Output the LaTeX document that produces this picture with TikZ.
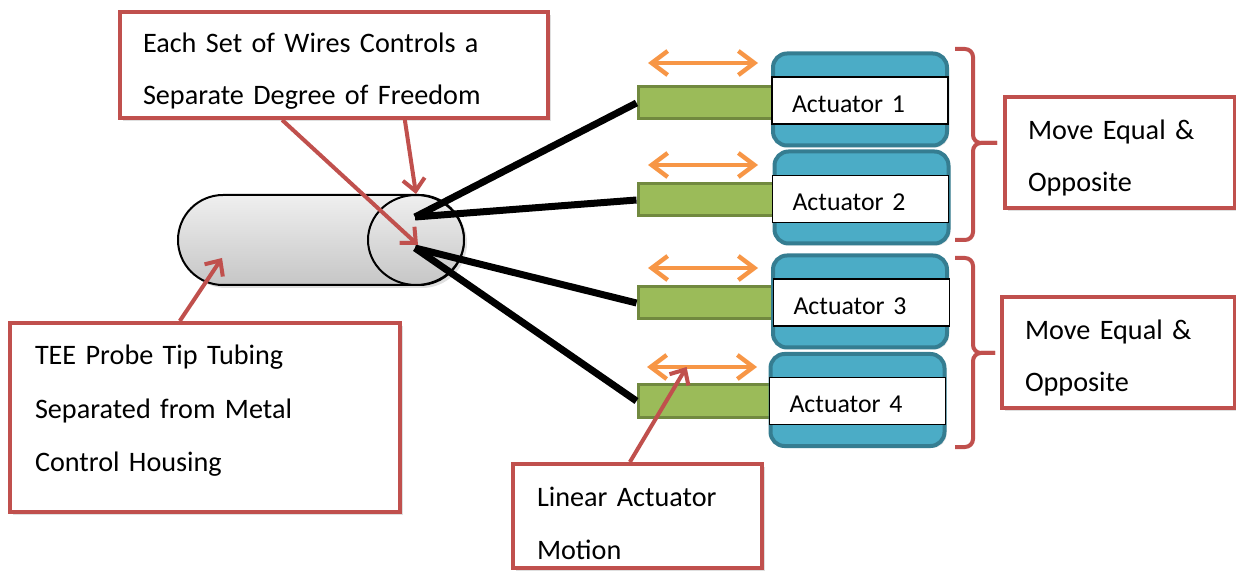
\documentclass[tikz,border=0pt]{standalone}
\usepackage{fontspec}
\setmainfont{Carlito}
\usetikzlibrary{arrows.meta,shapes.geometric,shapes.misc,shadows,calc}
\definecolor{calloutred}{HTML}{C0504D}
\definecolor{motionorange}{HTML}{F79646}
\definecolor{rodgreen}{HTML}{9BBB59}
\definecolor{roddark}{HTML}{71893F}
\definecolor{actblue}{HTML}{4BACC6}
\definecolor{actdark}{HTML}{357D91}
\definecolor{tubelight}{HTML}{EFEFEF}
\definecolor{tubedark}{HTML}{C6C6C6}
\begin{document}
\begin{tikzpicture}[x=0.5pt,y=0.5pt]
	\tikzstyle{every node}+=[inner sep=0pt]
	\tikzstyle{callout}=[draw=calloutred, line width=2pt, fill=white, inner xsep=11.5pt, align=left, text height=10.3pt, font=\fontsize{14.1}{26}\selectfont, drop shadow={opacity=0.25,shadow xshift=1.5pt,shadow yshift=-1.5pt}]
	\tikzstyle{pointer}=[calloutred, line width=2pt, -{Straight Barb[length=6pt,width=11pt]}]
	\tikzstyle{motion}=[motionorange, line width=2.2pt, {Straight Barb[length=8pt,width=12pt]}-{Straight Barb[length=8pt,width=12pt]}]
	\tikzstyle{rod}=[draw=roddark, fill=rodgreen, line width=1.5pt, minimum width=73pt, minimum height=16pt]
	\tikzstyle{actuator}=[draw=actdark, fill=actblue, line width=2pt, rounded corners=7pt, minimum width=87pt, minimum height=46pt, drop shadow={opacity=0.2,shadow xshift=1pt,shadow yshift=-1pt}]
	\tikzstyle{actlabel}=[draw=black, fill=white, line width=0.9pt, minimum height=23.5pt, text width=68pt, inner xsep=10pt, align=left, text height=12pt, text depth=0pt, font=\fontsize{12.9}{15}\selectfont]
	\tikzstyle{wire}=[black, line width=3.5pt]
	\tikzstyle{brace}=[calloutred, line width=2pt, rounded corners=4pt]
	\useasboundingbox (0,0) rectangle (1236,-571);
	\node[rounded rectangle, draw, line width=1pt, minimum width=143pt, minimum height=45pt, top color=tubelight, bottom color=tubedark, drop shadow={opacity=0.25,shadow xshift=1.5pt,shadow yshift=-1.5pt}] (tube) at (321,-240) {};
	\node[ellipse, draw, line width=1pt, minimum width=48pt, minimum height=45pt, top color=tubelight, bottom color=tubedark] (tipend) at (416,-240) {};
	\coordinate (wireup) at (415,-217);
	\coordinate (wiredown) at (415,-248);
	\node[rod] (rod1) at (711,-103) {};
	\node[rod] (rod2) at (711,-200) {};
	\node[rod] (rod3) at (711,-303) {};
	\node[rod] (rod4) at (711,-401) {};
	\draw[wire] (wireup) -- (rod1.west);
	\draw[wire] (wireup) -- (rod2.west);
	\draw[wire] (wiredown) -- (rod3.west);
	\draw[wire] (wiredown) -- (rod4.west);
	\node[actuator] (act1) at (860,-99.5) {};
	\node[actuator] (act2) at (861.5,-197.5) {};
	\node[actuator] (act3) at (860,-301.5) {};
	\node[actuator] (act4) at (857.5,-400) {};
	\node[actlabel] (lab1) at (860,-100.5) {Actuator 1};
	\node[actlabel] (lab2) at (860.5,-199) {Actuator 2};
	\node[actlabel] (lab3) at (861.5,-302.5) {Actuator 3};
	\node[actlabel] (lab4) at (857.5,-401) {Actuator 4};
	\draw[motion] (648,-63) -- (758,-63);
	\draw[motion] (648,-165) -- (758,-165);
	\draw[motion] (648,-268) -- (758,-268);
	\draw[motion] (647,-367) -- coordinate[pos=0.36] (m4) (757,-367);
	\draw[brace] (955,-49) -- (973,-49) -- (973,-143) -- (997,-143);
	\draw[brace] (955,-240) -- (973,-240) -- (973,-143) -- (997,-143);
	\draw[brace] (955,-258) -- (973,-258) -- (973,-353) -- (995,-353);
	\draw[brace] (955,-447) -- (973,-447) -- (973,-353) -- (995,-353);
	\node[callout, text width=191pt, minimum height=53pt, text depth=23pt] (wires) at (334,-65) {Each Set of Wires Controls a\\Separate Degree of Freedom};
	\node[callout, text width=92pt, minimum height=55.5pt, text depth=23pt] (equal1) at (1120,-152.5) {Move Equal \&\\Opposite};
	\node[callout, text width=93.5pt, minimum height=55.5pt, text depth=23pt] (equal2) at (1118.5,-352.5) {Move Equal \&\\Opposite};
	\node[callout, text width=170pt, inner xsep=12.5pt, minimum height=94.5pt, text depth=63pt, font=\fontsize{14.1}{26.75}\selectfont] (tubing) at (205,-417.5) {TEE Probe Tip Tubing\\Separated from Metal\\Control Housing};
	\node[callout, text width=100.5pt, inner xsep=12pt, minimum height=52pt, text depth=19.5pt, font=\fontsize{14.1}{26.5}\selectfont] (linear) at (637.5,-516) {Linear Actuator\\Motion};
	\draw[pointer] ($(wires.south west)!0.38!(wires.south east)$) -- ($(tipend.center)+(2,-5)$);
	\draw[pointer] ($(wires.south west)!0.664!(wires.south east)$) -- (tipend.north);
	\draw[pointer] ($(tubing.north west)!0.436!(tubing.north east)$) -- ($(tube.center)+(-99,-18)$);
	\draw[pointer] ($(linear.north west)!0.47!(linear.north east)$) -- (m4);
\end{tikzpicture}
\end{document}
